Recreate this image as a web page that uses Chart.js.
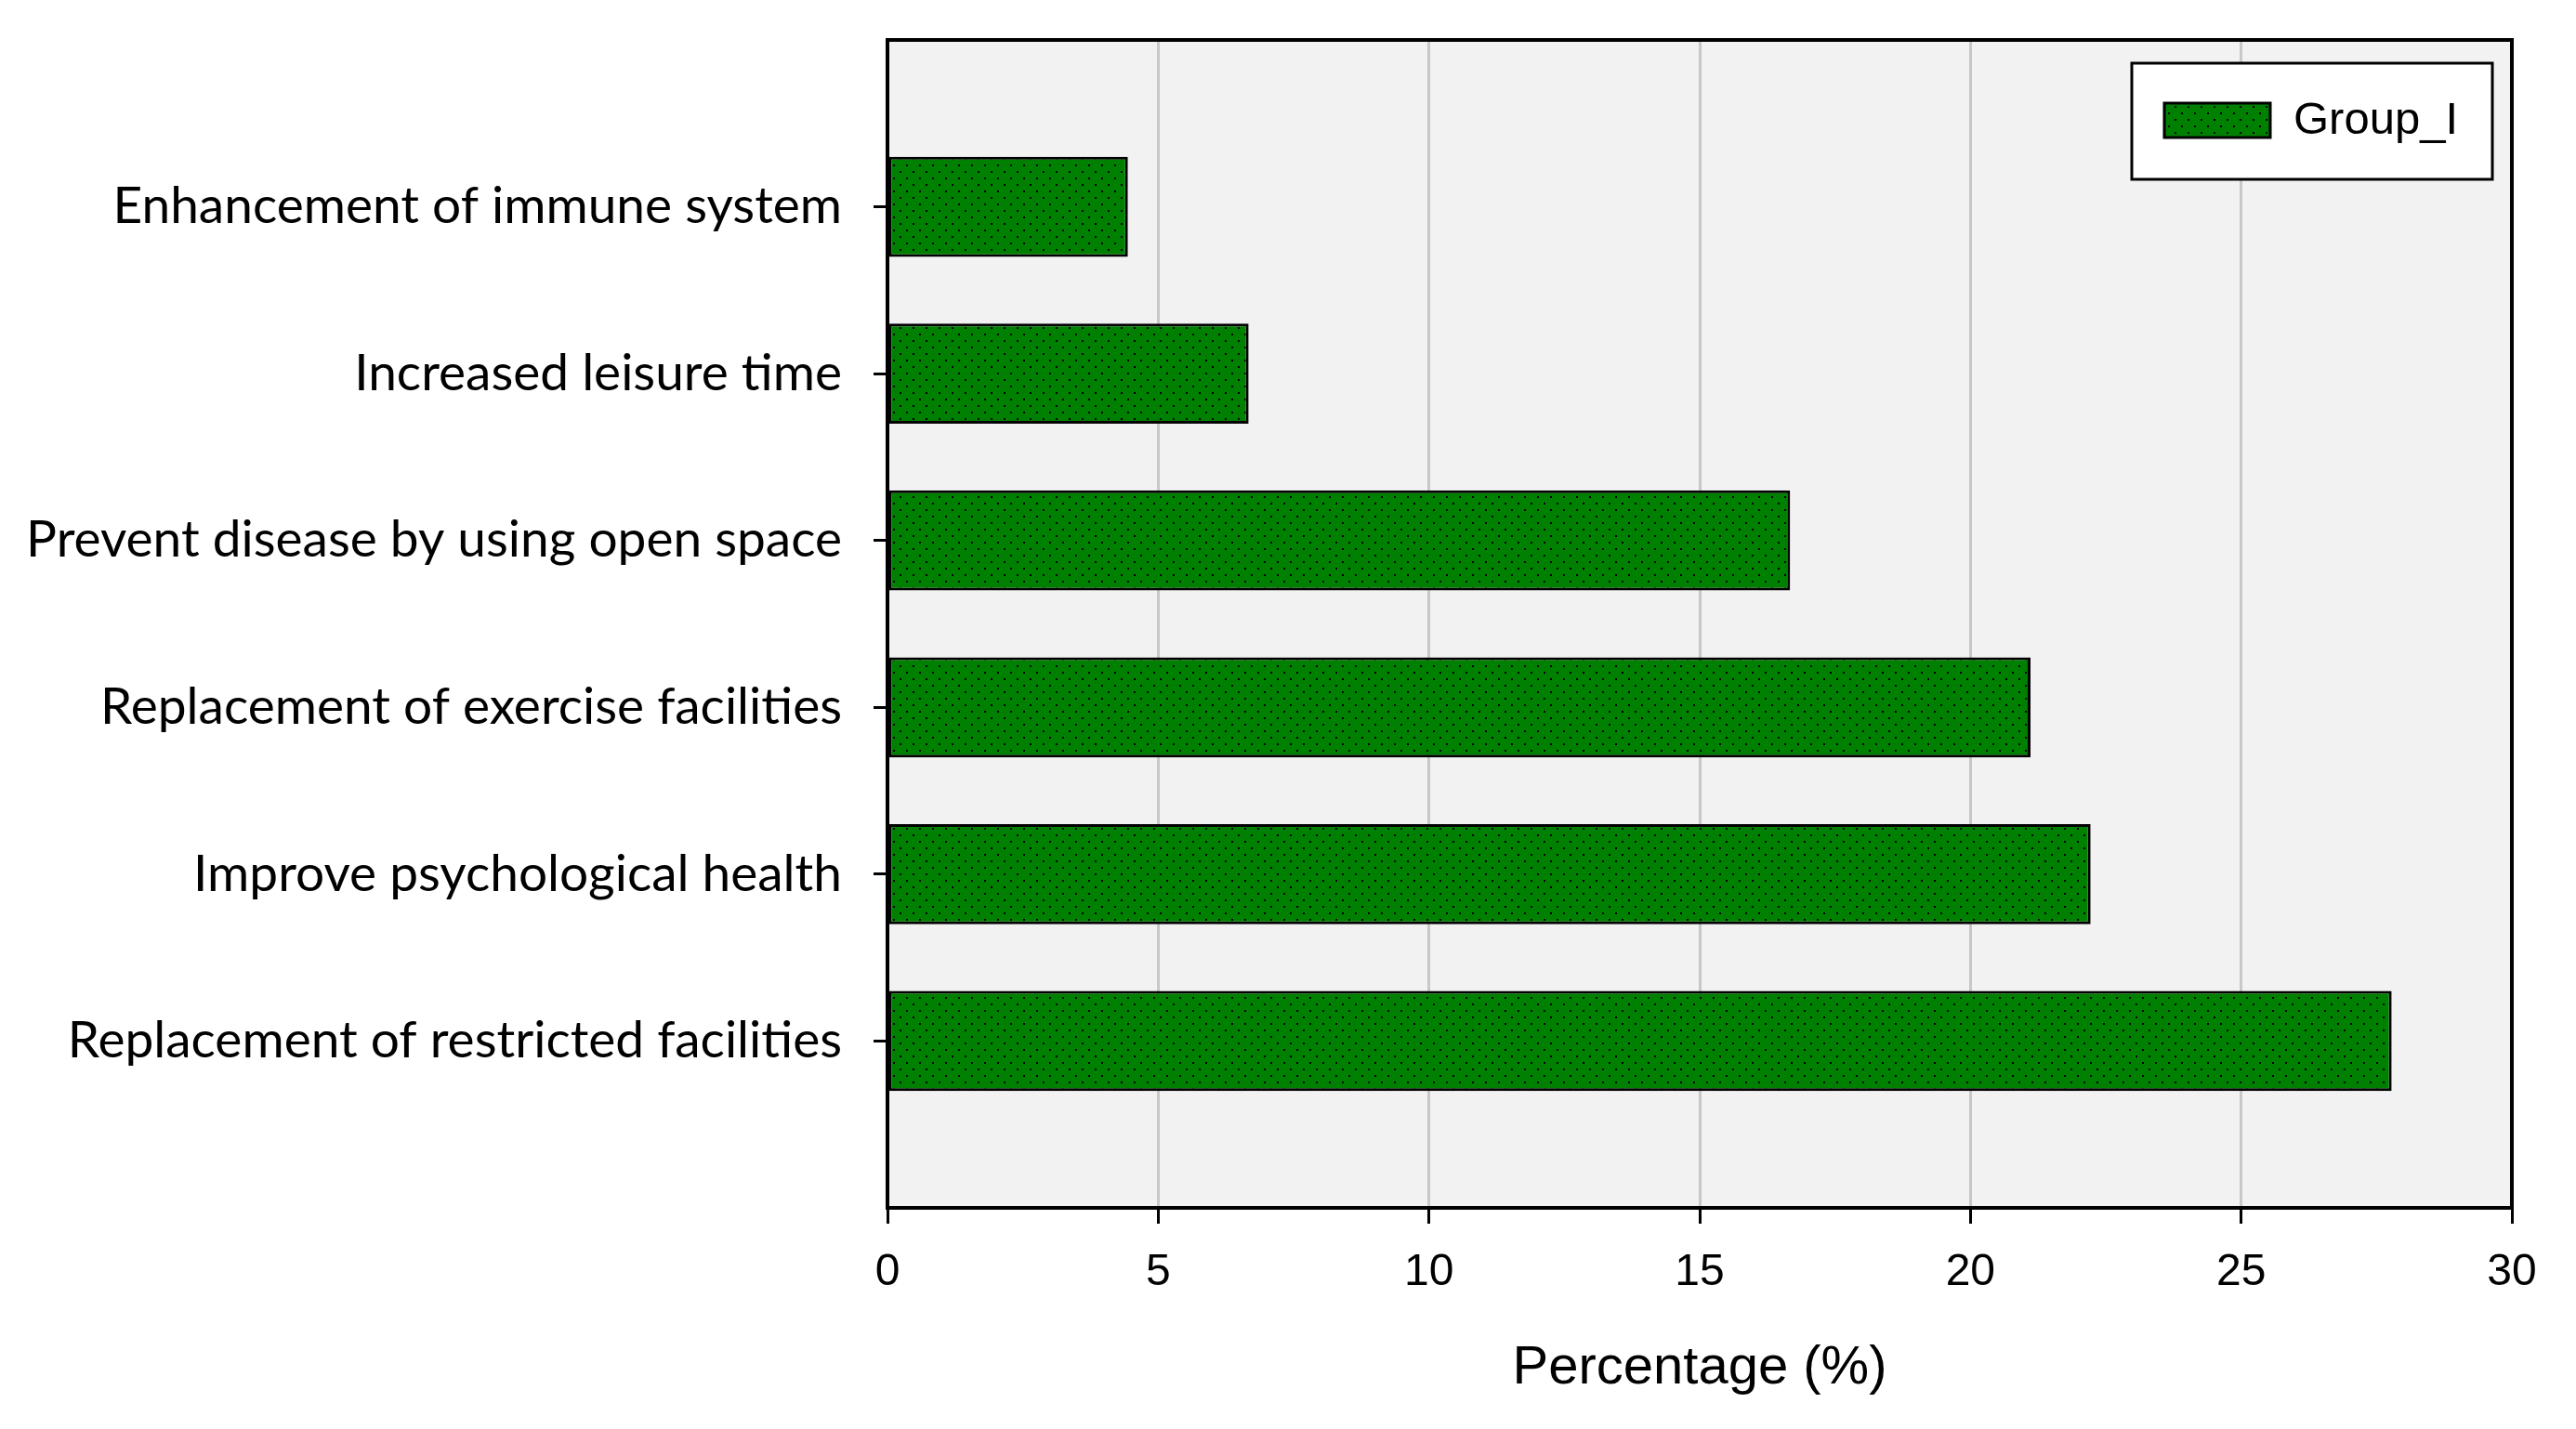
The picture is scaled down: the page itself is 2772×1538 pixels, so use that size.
<!DOCTYPE html>
<html>
<head>
<meta charset="utf-8">
<script src="https://cdn.jsdelivr.net/npm/chart.js@4/dist/chart.umd.min.js"></script>
<style>
  html, body { margin: 0; padding: 0; background: #fff; }
  #wrap { width: 2772px; height: 1538px; }
</style>
</head>
<body>
<div id="wrap"><canvas id="chart" width="2772" height="1538"></canvas></div>
<script>
// Data
const categories = [
    'Enhancement of immune system',
    'Increased leisure time',
    'Prevent disease by using open space',
    'Replacement of exercise facilities',
    'Improve psychological health',
    'Replacement of restricted facilities'
];
const groupI = [4.44, 6.67, 16.67, 21.11, 22.22, 27.78];
const seriesName = 'Group_I';
const xMin = 0;
const xMax = 30;
const xStep = 5;

// Empty slots above and below, so the bars sit at 1..6 of 7 bands
const labels = [''].concat(categories, ['']);
const values = [null].concat(groupI, [null]);

// Dotted green fill
function makeDots() {
    const c = document.createElement('canvas');
    c.width = 14;
    c.height = 14;
    const g = c.getContext('2d');
    g.fillStyle = '#008000';
    g.fillRect(0, 0, 14, 14);
    g.fillStyle = '#000';
    g.fillRect(2, 2, 2, 2);
    g.fillRect(9, 9, 2, 2);
    return g.createPattern(c, 'repeat');
}
const dots = makeDots();

// Plot background + frame
const framePlugin = {
    id: 'frame',
    beforeDraw(chart) {
        const { ctx, chartArea: a } = chart;
        ctx.save();
        ctx.fillStyle = '#fff';
        ctx.fillRect(0, 0, chart.width, chart.height);
        ctx.fillStyle = '#f2f2f2';
        ctx.fillRect(a.left, a.top, a.right - a.left, a.bottom - a.top);
        ctx.restore();
    },
    afterDatasetsDraw(chart) {
        const { ctx, chartArea: a } = chart;
        ctx.save();
        ctx.strokeStyle = '#000';
        ctx.lineWidth = 4;
        ctx.strokeRect(a.left, a.top, a.right - a.left, a.bottom - a.top);
        ctx.restore();
    }
};

// Boxed legend in the top right corner
const boxLegend = {
    id: 'boxLegend',
    afterDraw(chart) {
        const { ctx, chartArea: a } = chart;
        const ds = chart.data.datasets[0];
        const right = a.right - 21, top = a.top + 25;
        const w = 388, h = 125;
        const left = right - w;
        ctx.save();
        ctx.fillStyle = '#fff';
        ctx.fillRect(left, top, w, h);
        ctx.strokeStyle = '#000';
        ctx.lineWidth = 3;
        ctx.strokeRect(left, top, w, h);
        ctx.fillStyle = ds.backgroundColor;
        ctx.fillRect(left + 35, top + 43, 114, 37);
        ctx.lineWidth = 3;
        ctx.strokeRect(left + 35, top + 43, 114, 37);
        ctx.fillStyle = '#000';
        ctx.font = '49px "Liberation Sans", Arial, sans-serif';
        ctx.textBaseline = 'middle';
        ctx.fillText(ds.label, left + 174, top + 62);
        ctx.restore();
    }
};

const chart = new Chart(document.getElementById('chart').getContext('2d'), {
    type: 'bar',
    data: {
        labels: labels,
        datasets: [{
            label: seriesName,
            data: values,
            backgroundColor: dots,
            borderColor: '#000',
            borderWidth: 3,
            borderSkipped: false,
            categoryPercentage: 1,
            barPercentage: 0.6
        }]
    },
    options: {
        indexAxis: 'y',
        responsive: false,
        animation: false,
        devicePixelRatio: 1,
        layout: { padding: { left: 0, right: 69, top: 43, bottom: 0 } },
        plugins: {
            legend: { display: false },
            tooltip: { enabled: false }
        },
        scales: {
            x: {
                type: 'linear',
                min: xMin,
                max: xMax,
                ticks: {
                    stepSize: xStep,
                    color: '#000',
                    padding: 24,
                    font: { family: '"Liberation Sans", Arial, sans-serif', size: 48 }
                },
                grid: {
                    color: '#c8c8c8',
                    lineWidth: 3,
                    tickColor: '#000',
                    tickLength: 17,
                    tickWidth: 3
                },
                border: { display: false },
                title: {
                    display: true,
                    text: 'Percentage (%)',
                    color: '#000',
                    padding: { top: 0, bottom: 30 },
                    font: { family: '"Liberation Sans", Arial, sans-serif', size: 58 }
                },
                afterFit(scale) {
                    scale.height = 238;
                    scale.paddingLeft = 0;
                    scale.paddingRight = 0;
                }
            },
            y: {
                type: 'category',
                offset: false,
                ticks: {
                    autoSkip: false,
                    color: '#000',
                    padding: 34,
                    font: { family: 'Lato, "Open Sans", sans-serif', size: 55 }
                },
                grid: {
                    offset: false,
                    drawOnChartArea: false,
                    drawTicks: true,
                    tickLength: 15,
                    tickWidth: 3,
                    tickColor: c => (c.index >= 1 && c.index <= categories.length) ? '#000' : 'rgba(0,0,0,0)'
                },
                border: { display: false },
                afterFit(scale) {
                    scale.width = 955;
                    scale.paddingTop = 0;
                    scale.paddingBottom = 0;
                }
            }
        }
    },
    plugins: [framePlugin, boxLegend]
});
</script>
</body>
</html>
